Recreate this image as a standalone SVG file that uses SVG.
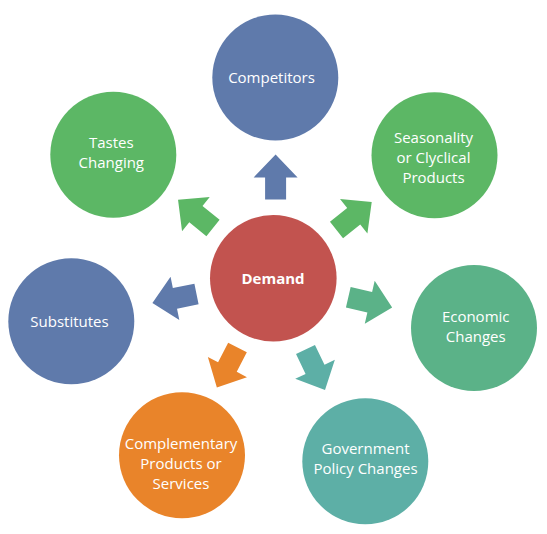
<svg xmlns="http://www.w3.org/2000/svg" width="547" height="534" viewBox="0 0 547 534">
<style>
text{font-family:"Open Sans","Noto Sans","DejaVu Sans",sans-serif;font-size:15px;fill:#fff;text-anchor:middle}
.b{fill:#5F7AAB}.g{fill:#5CB765}.r{fill:#C2534F}.e{fill:#5BB288}.t{fill:#5DAFA6}.o{fill:#E9842A}
</style>
<defs>
<polygon id="arr" points="0,-10.5 22,-10.5 22,-22 45,0 22,22 22,10.5 0,10.5"/>
</defs>
<rect width="547" height="534" fill="#fff"/>
<g id="connectors">
<use href="#arr" class="b" transform="translate(275.6,199.5) rotate(-90)"/>
<use href="#arr" class="g" transform="translate(336.5,230) rotate(-38.5)"/>
<use href="#arr" class="e" transform="translate(348.3,297.3) rotate(13)"/>
<use href="#arr" class="t" transform="translate(305.5,349.5) rotate(64.3)"/>
<use href="#arr" class="o" transform="translate(237.5,347.5) rotate(117.3)"/>
<use href="#arr" class="b" transform="translate(196.5,294) rotate(168.5)"/>
<use href="#arr" class="g" transform="translate(213,228) rotate(-141)"/>
</g>
<g id="demand"><circle class="r" cx="273.3" cy="278.3" r="63.3"/><text x="273" y="284.3" font-weight="bold">Demand</text></g>
<g id="competitors"><circle class="b" cx="275.3" cy="77.5" r="63"/><text x="271.5" y="83">Competitors</text></g>
<g id="seasonality"><circle class="g" cx="434.5" cy="155.3" r="63"/><text x="433.5" y="142.7">Seasonality</text><text x="433.5" y="162.7">or Clyclical</text><text x="433.5" y="182.7">Products</text></g>
<g id="economic"><circle class="e" cx="474" cy="328" r="63"/><text x="475.7" y="321.7">Economic</text><text x="475.7" y="341.7">Changes</text></g>
<g id="government"><circle class="t" cx="365.3" cy="461.3" r="63"/><text x="365.5" y="454">Government</text><text x="365.5" y="474.3">Policy Changes</text></g>
<g id="complementary"><circle class="o" cx="182" cy="455.3" r="63"/><text x="181" y="449.3">Complementary</text><text x="181" y="469.3">Products or</text><text x="181" y="489.3">Services</text></g>
<g id="substitutes"><circle class="b" cx="71.3" cy="321.3" r="63"/><text x="69.5" y="326.7">Substitutes</text></g>
<g id="tastes"><circle class="g" cx="113.3" cy="154.7" r="63"/><text x="111.3" y="148.3">Tastes</text><text x="111.3" y="168.3">Changing</text></g>
</svg>
